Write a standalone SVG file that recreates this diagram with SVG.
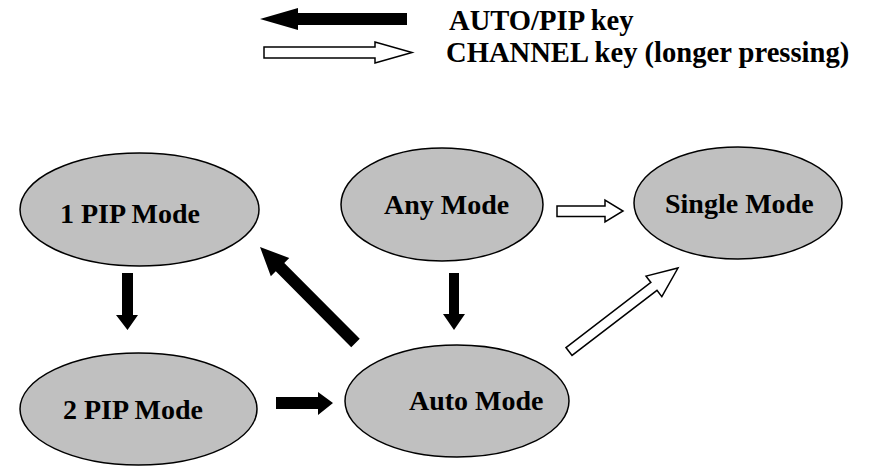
<svg xmlns="http://www.w3.org/2000/svg" width="890" height="466" viewBox="0 0 890 466">
<style>
.node ellipse{fill:#c0c0c0;stroke:#000;stroke-width:1.5}
text{font-family:"Liberation Serif","Times New Roman",serif;font-weight:bold;font-size:28px;fill:#000}
.legend-text{font-size:28.6px}
.blk{fill:#000;stroke:none}
.wht{fill:#fff;stroke:#000;stroke-width:1.5;stroke-linejoin:miter}
</style>
<rect width="890" height="466" fill="#fff"/>
<g id="legend">
<polygon class="blk" points="260,19 298,8 298,13 407,13 407,25 298,25 298,30"/>
<polygon class="wht" points="264,47 375,47 375,42 412,52.5 375,63 375,58 264,58"/>
<text class="legend-text" x="449" y="30">AUTO/PIP key</text>
<text class="legend-text" x="446" y="62">CHANNEL key (longer pressing)</text>
</g>
<g id="connectors">
<polygon class="blk" points="122,273 133,273 133,315 138,315 127.5,330 116,315 122,315"/>
<polygon class="blk" points="449,273 459,273 459,314 465,314 454,330 443,314 449,314"/>
<polygon class="blk" points="276,397 318,397 318,392 333,403 318,415 318,409 276,409"/>
<polygon class="blk" transform="translate(355.5,343) rotate(225.15)" points="0,-6 107,-6 107,-13 135.4,0 107,13 107,6 0,6"/>
<polygon class="wht" points="557,206 605,206 605,200 623,211 605,222 605,216.5 557,216.5"/>
<polygon class="wht" transform="translate(569,351.5) rotate(-37.46)" points="0,-5 107,-5 107,-13 137.3,0 107,13 107,5 0,5"/>
</g>
<g id="node-1pip" class="node"><ellipse cx="139.5" cy="209.5" rx="119.5" ry="56.5"/><text x="60" y="223">1 PIP Mode</text></g>
<g id="node-2pip" class="node"><ellipse cx="138.5" cy="409" rx="118.5" ry="56"/><text x="63" y="419">2 PIP Mode</text></g>
<g id="node-any" class="node"><ellipse cx="442" cy="204.5" rx="101" ry="56.5"/><text x="384" y="214">Any Mode</text></g>
<g id="node-single" class="node"><ellipse cx="738" cy="203" rx="104" ry="56"/><text x="665" y="213">Single Mode</text></g>
<g id="node-auto" class="node"><ellipse cx="457" cy="401" rx="112" ry="56"/><text x="409" y="410">Auto Mode</text></g>
</svg>
